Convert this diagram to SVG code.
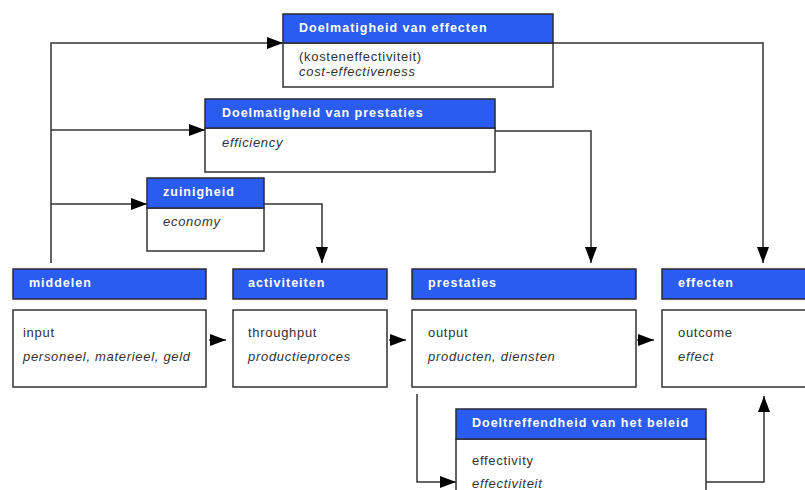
<svg xmlns="http://www.w3.org/2000/svg" width="805" height="490" viewBox="0 0 805 490">
<style>
.hd{fill:#2b5cf0;stroke:#2a2a3a;stroke-width:1.5}
.bd{fill:#fff;stroke:#333;stroke-width:1.5}
.ht{font-family:"Liberation Sans",Arial,sans-serif;font-weight:bold;font-size:12.5px;fill:#fff;letter-spacing:1px}
.t{font-family:"Liberation Sans",Arial,sans-serif;font-size:13px;fill:#333;letter-spacing:0.7px}
.i{font-style:italic}
.c{fill:none;stroke:#333;stroke-width:1.5}
</style>
<defs>
<marker id="b" markerWidth="16" markerHeight="12" refX="16" refY="6" orient="auto" markerUnits="userSpaceOnUse" viewBox="0 0 16 12"><path d="M0,0 L16,6 L0,12 z" fill="#000"/></marker>
</defs>
<g id="connectors">
<path class="c" d="M51,263 V43 H283" marker-end="url(#b)"/>
<path class="c" d="M51,130 H205" marker-end="url(#b)"/>
<path class="c" d="M51,204 H147" marker-end="url(#b)"/>
<path class="c" d="M264,204 H322 V263" marker-end="url(#b)"/>
<path class="c" d="M495,131 H591 V263" marker-end="url(#b)"/>
<path class="c" d="M553,43 H763 V263" marker-end="url(#b)"/>
<path class="c" d="M209,340 H226" marker-end="url(#b)"/>
<path class="c" d="M389,340 H406" marker-end="url(#b)"/>
<path class="c" d="M637,340 H654" marker-end="url(#b)"/>
<path class="c" d="M417,394 V482 H456" marker-end="url(#b)"/>
<path class="c" d="M706,482 H764 V396" marker-end="url(#b)"/>
</g>
<g id="doelmatigheid-effecten">
<rect class="bd" x="283" y="43" width="270" height="44"/>
<rect class="hd" x="283" y="14" width="270" height="29"/>
<text class="ht" x="299" y="32">Doelmatigheid van effecten</text>
<text class="t" x="299" y="61">(kosteneffectiviteit)</text>
<text class="t i" x="299" y="76">cost-effectiveness</text>
</g>
<g id="doelmatigheid-prestaties">
<rect class="bd" x="205" y="128" width="290" height="44"/>
<rect class="hd" x="205" y="99" width="290" height="29"/>
<text class="ht" x="222" y="117">Doelmatigheid van prestaties</text>
<text class="t i" x="222" y="147">efficiency</text>
</g>
<g id="zuinigheid">
<rect class="bd" x="147" y="208" width="117" height="43"/>
<rect class="hd" x="147" y="178" width="117" height="30"/>
<text class="ht" x="163" y="196">zuinigheid</text>
<text class="t i" x="163" y="226">economy</text>
</g>
<g id="middelen">
<rect class="hd" x="13" y="269" width="193" height="30"/>
<text class="ht" x="29" y="287">middelen</text>
<rect class="bd" x="13" y="310" width="193" height="77"/>
<text class="t" x="23" y="337">input</text>
<text class="t i" x="23" y="361">personeel, materieel, geld</text>
</g>
<g id="activiteiten">
<rect class="hd" x="233" y="269" width="154" height="30"/>
<text class="ht" x="248" y="287">activiteiten</text>
<rect class="bd" x="233" y="310" width="154" height="77"/>
<text class="t" x="248" y="337">throughput</text>
<text class="t i" x="248" y="361">productieproces</text>
</g>
<g id="prestaties">
<rect class="hd" x="412" y="269" width="224" height="30"/>
<text class="ht" x="428" y="287">prestaties</text>
<rect class="bd" x="412" y="310" width="224" height="77"/>
<text class="t" x="428" y="337">output</text>
<text class="t i" x="428" y="361">producten, diensten</text>
</g>
<g id="effecten">
<rect class="hd" x="662" y="269" width="150" height="30"/>
<text class="ht" x="678" y="287">effecten</text>
<rect class="bd" x="662" y="310" width="150" height="77"/>
<text class="t" x="678" y="337">outcome</text>
<text class="t i" x="678" y="361">effect</text>
</g>
<g id="doeltreffendheid">
<rect class="bd" x="456" y="439" width="250" height="60"/>
<rect class="hd" x="456" y="409" width="250" height="30"/>
<text class="ht" x="472" y="427">Doeltreffendheid van het beleid</text>
<text class="t" x="472" y="465">effectivity</text>
<text class="t i" x="472" y="488">effectiviteit</text>
</g>
</svg>
